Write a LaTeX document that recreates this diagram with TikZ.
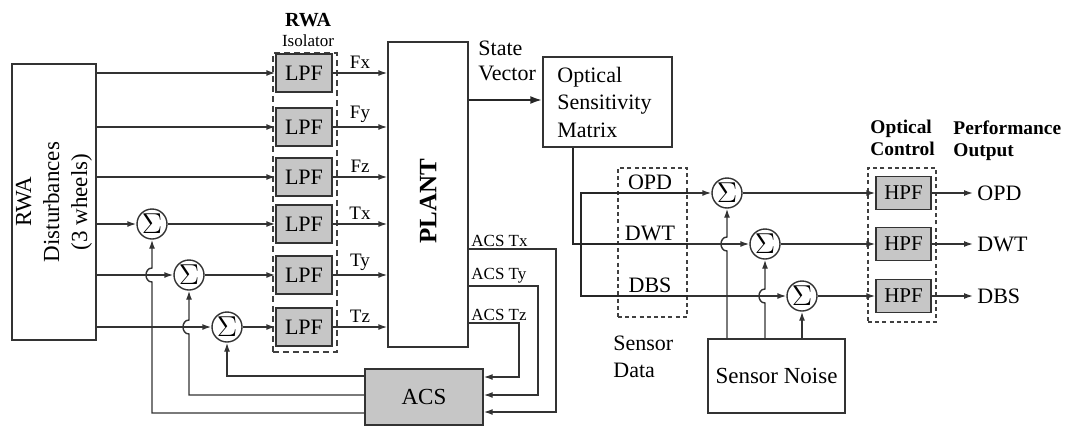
\documentclass[tikz,border=0pt]{standalone}
\usepackage{fontspec}
\setmainfont{Liberation Serif}
\usetikzlibrary{arrows.meta,positioning}
\newcommand\fsz[2]{\fontsize{#1}{#2}\selectfont}
\tikzset{
  wire/.style={line width=0.7pt,draw=black!80},
  sig/.style={wire,-{Latex[length=4.5pt,width=3pt]}},
  bus/.style={line width=1.1pt,draw=black!85},
  filt/.style={wire,fill=gray!45,inner sep=0pt},
  sumnode/.style={wire,circle,minimum size=15pt,inner sep=0pt,font=\fsz{14}{14}},
  group/.style={draw=black!75,line width=0.6pt,dash pattern=on 2pt off 1.6pt},
}
\begin{document}
\begin{tikzpicture}[x=0.5pt,y=-0.5pt]
\useasboundingbox (0,0) rectangle (1068,428);
% disturbance source and plant
\node[wire,minimum width=42pt,minimum height=138pt] (rwa) at (54,202) {};
\node[rotate=90,align=center,font=\fsz{11.5}{14}] (rwatxt) at (rwa.center) {RWA\\Disturbances\\(3 wheels)};
\node[wire,minimum width=40pt,minimum height=152.5pt] (plant) at (428,194.5) {};
\node[rotate=90,font=\bfseries\fsz{12.5}{14}] (planttxt) at (428,201) {PLANT};

% isolator
\node[group,line width=0.8pt,dash pattern=on 3pt off 2pt,minimum width=32pt,minimum height=149.5pt] (iso) at (305,202.5) {};
\node[font=\bfseries\fsz{10}{11}] (isohead) at (308,20) {RWA};
\node[font=\fsz{8.5}{9}] (isosub) at (308,41) {Isolator};
\foreach \i/\y/\lab in {1/73/Fx,2/127/Fy,3/177/Fz,4/224/Tx,5/275/Ty,6/327/Tz}{
  \node[filt,minimum width=28pt,minimum height=19pt,font=\fsz{11}{12}] (lpf\i) at (304,\y) {LPF};
  \draw[sig] (lpf\i) -- node[above,font=\fsz{9.5}{10},inner sep=2pt] {\lab} (plant.west |- lpf\i);
}
\foreach \i in {1,2,3}
  \draw[sig] (rwa.east |- lpf\i) -- (lpf\i);

% torque sums
\node[sumnode] (s1) at (152,224) {$\Sigma$};
\node[sumnode] (s2) at (189,275) {$\Sigma$};
\node[sumnode] (s3) at (227,327) {$\Sigma$};
\foreach \i/\j in {1/4,2/5,3/6}{
  \draw[sig] (rwa.east |- s\i) -- (s\i);
  \draw[sig] (s\i) -- (lpf\j);
}

% attitude control loop
\node[filt,minimum width=59pt,minimum height=28pt,font=\fsz{11.5}{13}] (acs) at (424,397) {ACS};
\draw[sig] (acs.west |- 0,413) -- (s1 |- 0,413) -- (152,282)
  .. controls (144,282) and (144,268) .. (152,268) -- (s1.south);
\draw[sig] (acs.west |- 0,395) -- (s2 |- 0,395) -- (189,334)
  .. controls (181,334) and (181,320) .. (189,320) -- (s2.south);
\draw[sig] (acs.west |- 0,376) -| (s3.south);
\foreach \lab/\y/\x/\z in {Tx/249/556/412,Ty/286/538/395,Tz/323/519/377}
  \draw[sig] (plant.east |- 0,\y) node[above right,inner sep=1pt,font=\fsz{8.5}{10}] {ACS \lab}
    -| (\x,\z) -- (acs.east |- 0,\z);

% optics
\node[wire,minimum width=64.5pt,minimum height=45pt] (osm) at (607.5,102) {};
\node[align=left,anchor=west,font=\fsz{11}{13.75}] (osmtxt) at ([xshift=4pt]osm.west) {Optical\\Sensitivity\\Matrix};
\draw[bus,-{Latex[length=6pt,width=4pt]}] (plant.east |- 0,100) -- (osm.west |- 0,100);
\node[align=left,anchor=north west,inner sep=0pt,font=\fsz{11}{12.5}] (svtxt) at (478,41) {State\\Vector};

\node[group,minimum width=34.5pt,minimum height=74.5pt] (sd) at (652.5,242.5) {};
\foreach \lab/\y in {OPD/193,DWT/244,DBS/296}
  \node[above,inner sep=1.5pt,font=\fsz{11}{12}] (sd\lab) at (650,\y) {\lab};
\node[align=left,anchor=north west,inner sep=0pt,font=\fsz{11}{13.5}] (sdtxt) at (613,336) {Sensor\\Data};
\draw[bus] (osm.south -| 573,0) -- (573,244) -- (sd.east |- 0,244);
\draw[bus] (sd.east |- 0,193) -- (581,193) -- (581,296) -- (sd.east |- 0,296);

% sensor noise sums
\node[sumnode] (sa) at (727,193) {$\Sigma$};
\node[sumnode] (sb) at (765,244) {$\Sigma$};
\node[sumnode] (sc) at (802,296) {$\Sigma$};
\foreach \s in {sa,sb,sc}
  \draw[sig] (sd.east |- \s) -- (\s);
\node[wire,minimum width=68.5pt,minimum height=37pt,font=\fsz{11.5}{13}] (noise) at (776.5,376) {Sensor Noise};
\draw[sig] (noise.north -| sa) -- (727,251)
  .. controls (719,251) and (719,237) .. (727,237) -- (sa.south);
\draw[sig] (noise.north -| sb) -- (765,303)
  .. controls (757,303) and (757,289) .. (765,289) -- (sb.south);
\draw[sig] (noise.north -| sc) -- (sc.south);

% optical control
\node[group,minimum width=34pt,minimum height=77pt] (oc) at (902,245) {};
\node[align=left,anchor=north west,inner sep=0pt,font=\bfseries\fsz{9.7}{11}] (ochead) at (870,120) {Optical\\Control};
\node[align=left,anchor=north west,inner sep=0pt,font=\bfseries\fsz{9.7}{11}] (perfhead) at (953,120) {Performance\\Output};
\foreach \i/\y/\lab/\s in {1/193/OPD/sa,2/244/DWT/sb,3/296/DBS/sc}{
  \node[filt,minimum width=27.5pt,minimum height=16.5pt,font=\fsz{10.5}{12}] (hpf\i) at (903.5,\y) {HPF};
  \node[anchor=west,inner sep=2pt,font=\fsz{11}{12}] (out\i) at (973,\y) {\lab};
  \draw[sig] (\s) -- (hpf\i);
  \draw[sig] (hpf\i) -- (out\i);
}
\end{tikzpicture}
\end{document}
